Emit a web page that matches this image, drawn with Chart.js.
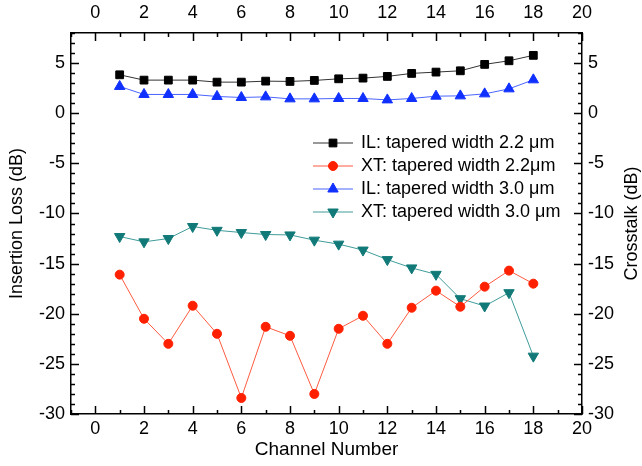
<!DOCTYPE html>
<html>
<head>
<meta charset="utf-8">
<script src="https://cdn.jsdelivr.net/npm/chart.js@4.4.0/dist/chart.umd.min.js"></script>
<style>
  html, body { margin: 0; padding: 0; background: #fff; }
  #wrap { width: 642px; height: 466px; }
</style>
</head>
<body>
<div id="wrap"><canvas id="chart" width="642" height="466"></canvas></div>
<script>
// channel numbers 1..18
const channels = [1, 2, 3, 4, 5, 6, 7, 8, 9, 10, 11, 12, 13, 14, 15, 16, 17, 18];

// insertion loss / crosstalk (dB)
const ilWidth22 = [3.83, 3.3, 3.3, 3.3, 3.1, 3.1, 3.2, 3.17, 3.27, 3.43, 3.5, 3.67, 3.97, 4.1, 4.23, 4.87, 5.23, 5.77];
const xtWidth22 = [-16.1, -20.5, -23.0, -19.2, -22.0, -28.4, -21.3, -22.2, -28.0, -21.5, -20.2, -23.0, -19.4, -17.7, -19.3, -17.3, -15.7, -17.0];
const ilWidth30 = [2.67, 1.87, 1.87, 1.87, 1.67, 1.57, 1.63, 1.43, 1.43, 1.47, 1.47, 1.33, 1.47, 1.7, 1.73, 1.93, 2.43, 3.33];
const xtWidth30 = [-12.3, -12.83, -12.5, -11.3, -11.68, -11.9, -12.1, -12.14, -12.66, -13.06, -13.65, -14.6, -15.43, -16.07, -18.5, -19.23, -17.9, -24.23];

const seriesLabels = [
    'IL: tapered width 2.2 \u03bcm',
    'XT: tapered width 2.2\u03bcm',
    'IL: tapered width 3.0 \u03bcm',
    'XT: tapered width 3.0 \u03bcm'
];

const xTicks = [0, 2, 4, 6, 8, 10, 12, 14, 16, 18, 20];
const yTicks = [-30, -25, -20, -15, -10, -5, 0, 5];

const FONT = 'Liberation Sans, Arial, sans-serif';

function pts(values) {
    return channels.map((c, i) => ({ x: c, y: values[i] }));
}

// Origin-style ticks: inside the frame, minor every unit
const insideTicks = {
    id: 'insideTicks',
    afterDraw(chart) {
        const ctx = chart.ctx;
        const a = chart.chartArea;
        const sx = chart.scales.x, sy = chart.scales.y;
        ctx.save();
        ctx.strokeStyle = '#000';
        ctx.lineWidth = 1.5;
        ctx.beginPath();
        for (let v = Math.ceil(sx.min); v <= sx.max; v++) {
            const px = Math.round(sx.getPixelForValue(v)) + 0.5;
            const len = xTicks.includes(v) ? 8 : 4;
            ctx.moveTo(px, a.bottom); ctx.lineTo(px, a.bottom - len);
            ctx.moveTo(px, a.top); ctx.lineTo(px, a.top + len);
        }
        for (let v = Math.ceil(sy.min); v <= sy.max; v++) {
            const py = Math.round(sy.getPixelForValue(v)) + 0.5;
            const len = yTicks.includes(v) ? 8 : 4;
            ctx.moveTo(a.left, py); ctx.lineTo(a.left + len, py);
            ctx.moveTo(a.right, py); ctx.lineTo(a.right - len, py);
        }
        ctx.stroke();

        // right axis title reads bottom to top
        ctx.fillStyle = '#000';
        ctx.font = '18px ' + FONT;
        ctx.textAlign = 'center';
        ctx.textBaseline = 'middle';
        ctx.translate(chart.width - 10, (a.top + a.bottom) / 2);
        ctx.rotate(-Math.PI / 2);
        ctx.fillText('Crosstalk (dB)', 0, 0);
        ctx.restore();
    }
};

// legend inside the plot, Origin style
const innerLegend = {
    id: 'innerLegend',
    afterDatasetsDraw(chart) {
        const ctx = chart.ctx;
        const a = chart.chartArea;
        const x0 = a.left + 242, x1 = a.left + 282, tx = a.left + 290;
        let y = a.top + 110;
        ctx.save();
        ctx.font = '18px ' + FONT;
        ctx.textBaseline = 'middle';
        chart.data.datasets.forEach(ds => {
            ctx.strokeStyle = ds.borderColor;
            ctx.lineWidth = ds.borderWidth;
            ctx.beginPath();
            ctx.moveTo(x0, y); ctx.lineTo(x1, y);
            ctx.stroke();
            ctx.fillStyle = ds.pointBackgroundColor;
            ctx.strokeStyle = ds.pointBorderColor;
            ctx.lineWidth = 1;
            Chart.helpers.drawPoint(ctx, {
                pointStyle: ds.pointStyle,
                radius: ds.pointRadius,
                rotation: ds.pointRotation || 0,
                borderWidth: 1
            }, (x0 + x1) / 2, y);
            ctx.fillStyle = '#000';
            ctx.fillText(ds.label, tx, y);
            y += 23;
        });
        ctx.restore();
    }
};

function xAxis(position, h, pad) {
    return {
        type: 'linear',
        position: position,
        min: -1,
        max: 20,
        afterBuildTicks: s => { s.ticks = xTicks.map(v => ({ value: v })); },
        afterFit: s => { s.height = h; },
        grid: { display: false, drawTicks: false },
        border: { display: true, color: '#000', width: 1.5 },
        ticks: { color: '#000', font: { family: FONT, size: 18 }, padding: pad, maxRotation: 0 }
    };
}

function yAxis(position, w) {
    return {
        type: 'linear',
        position: position,
        min: -30,
        max: 8,
        afterBuildTicks: s => { s.ticks = yTicks.map(v => ({ value: v })); },
        afterFit: s => { s.width = w; },
        grid: { display: false, drawTicks: false },
        border: { display: true, color: '#000', width: 1.5 },
        ticks: { color: '#000', font: { family: FONT, size: 18 }, padding: 6 }
    };
}

const xBottom = xAxis('bottom', 52, 4);
xBottom.title = { display: true, text: 'Channel Number', color: '#000', font: { family: FONT, size: 19 }, padding: { top: 0, bottom: 5 } };
const xTop = xAxis('top', 33, 9);
const yLeft = yAxis('left', 71);
yLeft.title = { display: true, text: 'Insertion Loss (dB)', color: '#000', font: { family: FONT, size: 18 }, padding: { top: 6, bottom: 0 } };
const yRight = yAxis('right', 60);

function series(label, values, color, lineColor, style, radius, rotation) {
    return {
        label: label,
        data: pts(values),
        borderColor: lineColor,
        borderWidth: 1,
        pointStyle: style,
        pointRadius: radius,
        pointRotation: rotation,
        pointBackgroundColor: color,
        pointBorderColor: color,
        pointBorderWidth: 1,
        tension: 0
    };
}

new Chart(document.getElementById('chart'), {
    type: 'line',
    data: {
        datasets: [
            series(seriesLabels[0], ilWidth22, '#000000', '#333333', 'rect', 5.5, 0),
            series(seriesLabels[1], xtWidth22, '#ff2000', '#ff5a40', 'circle', 4.5, 0),
            series(seriesLabels[2], ilWidth30, '#1030ff', '#4a64ff', 'triangle', 6, 0),
            series(seriesLabels[3], xtWidth30, '#117a78', '#3f9c9a', 'triangle', 6, 180)
        ]
    },
    options: {
        responsive: false,
        animation: false,
        layout: { padding: 0 },
        plugins: { legend: { display: false }, tooltip: { enabled: false } },
        scales: { x: xBottom, x2: xTop, y: yLeft, y2: yRight }
    },
    plugins: [insideTicks, innerLegend]
});
</script>
</body>
</html>
